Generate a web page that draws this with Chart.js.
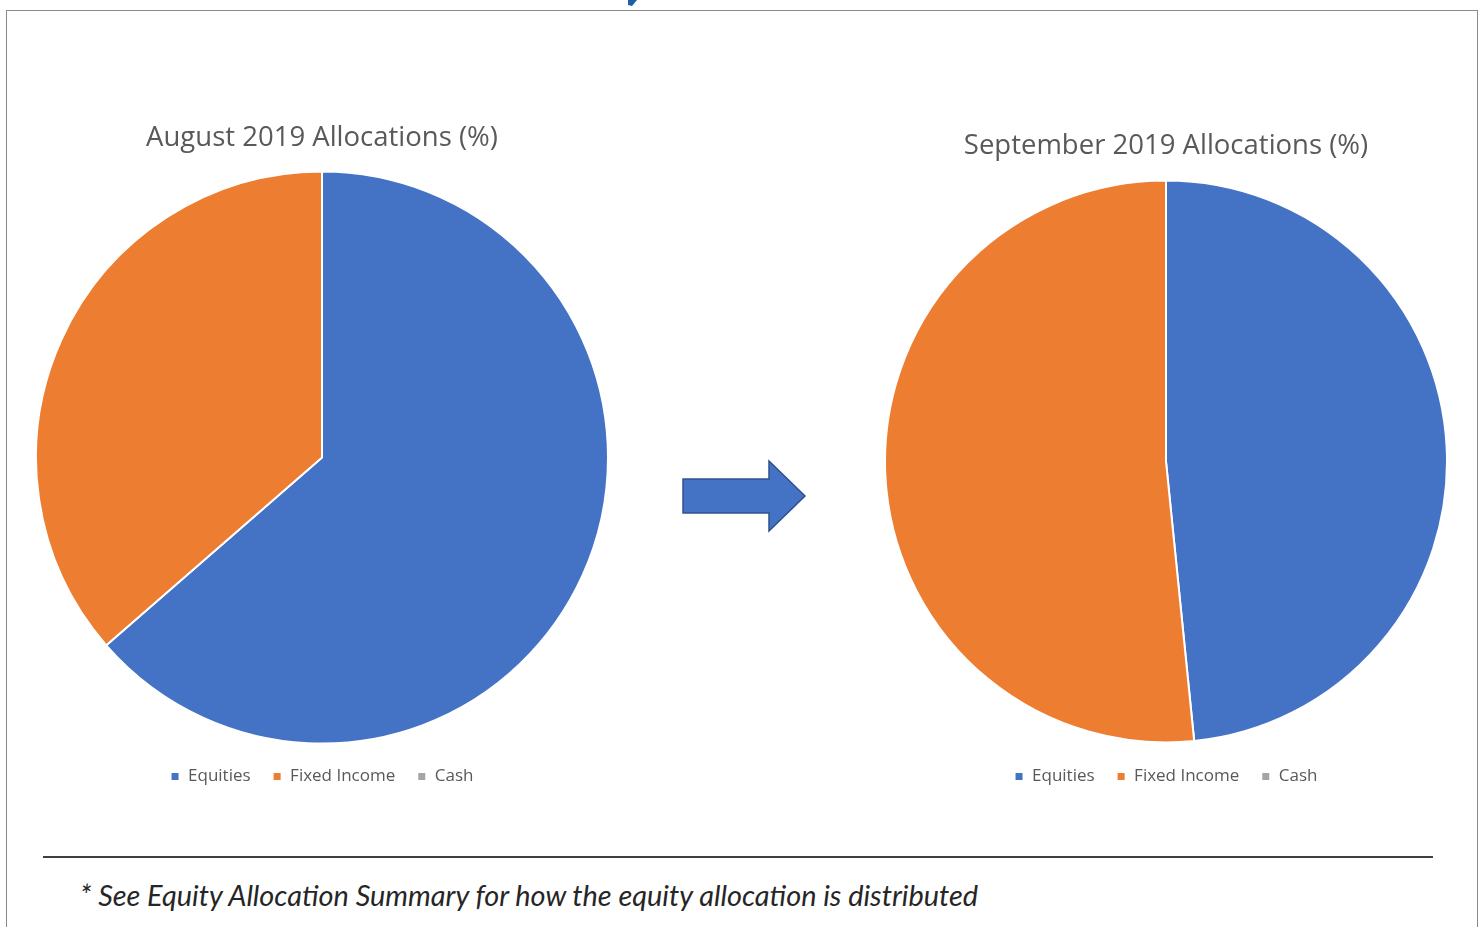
<!DOCTYPE html>
<html>
<head>
<meta charset="utf-8">
<script src="https://cdn.jsdelivr.net/npm/chart.js@4.4.0/dist/chart.umd.min.js"></script>
<style>
html,body{margin:0;padding:0;background:#fff;width:1483px;height:927px;overflow:hidden;position:relative;font-family:"Open Sans",sans-serif}
.abs{position:absolute}
#frame{left:6px;top:10px;width:1472px;height:940px;border:1px solid #8a8a8a;box-sizing:border-box}
#rule{left:43px;top:856px;width:1390px;height:2px;background:#404040}
#note{left:80px;top:877px;font-family:"Lato","Open Sans",sans-serif;font-style:italic;font-size:29px;color:#262626;white-space:nowrap;transform-origin:0 0}
canvas{display:block}
</style>
</head>
<body>
<div id="frame" class="abs"></div>
<svg class="abs" style="left:0;top:0" width="1483" height="927">
  <polygon points="628,0 637,0 632,6 628,5" fill="#1f5fa8"/>
  <polygon points="683,479 769,479 769,461 805,496 769,531 769,513 683,513" fill="#4472C4" stroke="#2F528F" stroke-width="1.5" stroke-linejoin="miter"/>
</svg>
<div class="abs" id="leftBox" style="left:35px;top:120px"><canvas id="leftPie" width="574" height="675"></canvas></div>
<div class="abs" id="rightBox" style="left:884px;top:128px"><canvas id="rightPie" width="564" height="667"></canvas></div>
<div id="rule" class="abs"></div>
<div id="note" class="abs">* See Equity Allocation Summary for how the equity allocation is distributed</div>
<script>
const categories = ['Equities', 'Fixed Income', 'Cash'];
const augustValues = [63.6, 36.4, 0];
const septemberValues = [48.4, 51.6, 0];
const chartTitles = ['August 2019 Allocations (%)', 'September 2019 Allocations (%)'];
const sliceColors = ['#4472C4', '#ED7D31', '#A5A5A5'];

function makePie(id, title, values) {
  return new Chart(document.getElementById(id), {
    type: 'pie',
    data: {
      labels: categories,
      datasets: [{
        data: values,
        backgroundColor: sliceColors,
        borderColor: '#ffffff',
        borderWidth: 2
      }]
    },
    options: {
      responsive: false,
      animation: false,
      devicePixelRatio: 1,
      layout: { padding: 0 },
      plugins: {
        tooltip: { enabled: false },
        title: {
          display: true,
          text: title,
          color: '#595959',
          font: { family: 'Open Sans', size: 27.5, weight: 'normal', lineHeight: 1.2 },
          padding: { top: 2, bottom: 14 }
        },
        legend: {
          display: true,
          position: 'bottom',
          labels: {
            color: '#595959',
            font: { family: 'Open Sans', size: 17 },
            boxWidth: 9,
            boxHeight: 9,
            padding: 22
          }
        }
      }
    }
  });
}
makePie('leftPie', chartTitles[0], augustValues);
makePie('rightPie', chartTitles[1], septemberValues);

const note = document.getElementById('note');
const w = note.getBoundingClientRect().width;
note.style.transform = 'scaleX(' + (898 / w) + ')';
</script>
</body>
</html>
